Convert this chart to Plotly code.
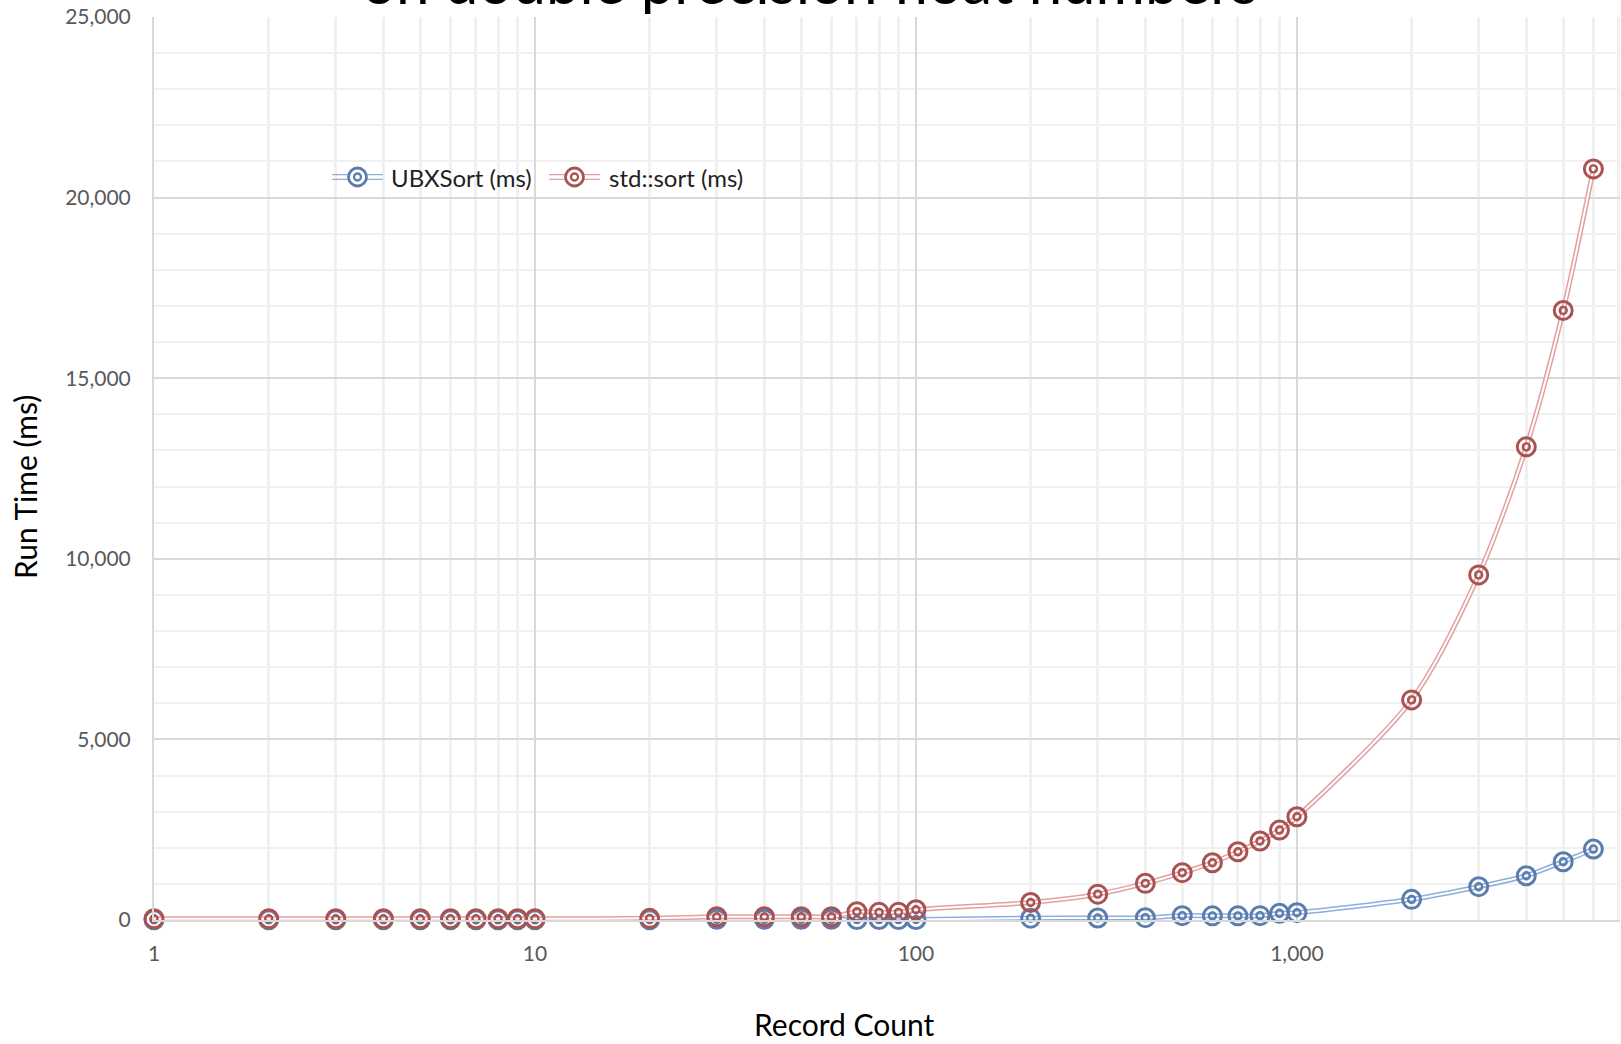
import plotly.graph_objects as go

# Benchmark results: sort time versus number of records
record_counts = [1, 2, 3, 4, 5, 6, 7, 8, 9, 10,
                 20, 30, 40, 50, 60, 70, 80, 90, 100,
                 200, 300, 400, 500, 600, 700, 800, 900, 1000,
                 2000, 3000, 4000, 5000, 6000]
ubxsort_ms = [5, 5, 5, 5, 5, 5, 5, 5, 5, 5,
              8, 18, 18, 18, 18, 12, 12, 12, 14,
              50, 55, 64, 120, 115, 115, 120, 185, 202,
              572, 922, 1226, 1613, 1964]
stdsort_ms = [35, 35, 35, 35, 35, 35, 35, 35, 35, 35,
              45, 91, 91, 91, 91, 230, 212, 212, 285,
              486, 715, 1015, 1310, 1586, 1890, 2186, 2490, 2858,
              6093, 9554, 13100, 16876, 20795]

series_names = ["UBXSort (ms)", "std::sort (ms)"]
x_tick_vals = [1, 10, 100, 1000]
x_tick_text = ["1", "10", "100", "1,000"]

title_text = "on double precision float numbers"
x_title = "Record Count"
y_title = "Run Time (ms)"

FONT = "Lato"
W, H = 1621, 1044
ML, MR, MT, MB = 154, 1, 17, 124
PW, PH = W - ML - MR, H - MT - MB

line_colors = ["#8FAEDB", "#E3A0A0"]
marker_colors = ["#5B7DAE", "#A95252"]

fig = go.Figure()

for vals, lc, mc in zip([ubxsort_ms, stdsort_ms], line_colors, marker_colors):
    # double line: a wide coloured stroke with a thin white core
    fig.add_trace(go.Scatter(x=record_counts, y=vals, mode="lines",
                             line=dict(color=lc, width=5, shape="spline", smoothing=0.8),
                             hoverinfo="skip", showlegend=False, cliponaxis=False))
    fig.add_trace(go.Scatter(x=record_counts, y=vals, mode="lines",
                             line=dict(color="white", width=2, shape="spline", smoothing=0.8),
                             hoverinfo="skip", showlegend=False, cliponaxis=False))
    # bullseye markers: outer ring plus inner ring
    fig.add_trace(go.Scatter(x=record_counts, y=vals, mode="markers",
                             marker=dict(symbol="circle-open", size=18, color=mc,
                                         line=dict(width=3, color=mc)),
                             showlegend=False, cliponaxis=False))
    fig.add_trace(go.Scatter(x=record_counts, y=vals, mode="markers",
                             marker=dict(symbol="circle-open", size=7, color=mc,
                                         line=dict(width=2.4, color=mc)),
                             hoverinfo="skip", showlegend=False, cliponaxis=False))


def px_x(px):
    return (px - ML) / PW


def px_y(py):
    return (H - MB - py) / PH


# Legend drawn as shapes and text
shapes = []
annotations = []
legend_y = px_y(177)
legend_items = [(332, 383, 389), (549, 600, 607)]
for (lx0, lx1, tx), name, lc, mc in zip(legend_items, series_names, line_colors, marker_colors):
    for off in (-2.4, 2.4):
        shapes.append(dict(type="line", xref="paper", yref="paper",
                           x0=px_x(lx0), x1=px_x(lx1), ysizemode="pixel",
                           yanchor=legend_y, y0=off, y1=off,
                           line=dict(color=lc, width=1.4)))
    cx = px_x((lx0 + lx1) / 2)
    for r, w in ((9.0, 2.8), (3.5, 2.3)):
        shapes.append(dict(type="circle", xref="paper", yref="paper",
                           xsizemode="pixel", ysizemode="pixel",
                           xanchor=cx, yanchor=legend_y,
                           x0=-r, x1=r, y0=-r, y1=r,
                           fillcolor="white" if r > 5 else "rgba(0,0,0,0)",
                           line=dict(color=mc, width=w)))
    annotations.append(dict(text=name, xref="paper", yref="paper",
                            x=px_x(tx), y=legend_y, xanchor="left", yanchor="middle",
                            showarrow=False, font=dict(family=FONT, size=24, color="#1F1F1F")))

# Chart title (only the lower line falls within the page)
annotations.append(dict(text=title_text, xref="paper", yref="paper",
                        x=px_x(810), y=1, xanchor="center", yanchor="bottom", yshift=-2,
                        showarrow=False, font=dict(family=FONT, size=60, color="#000000")))
# Axis titles
annotations.append(dict(text=y_title, xref="paper", yref="paper",
                        x=px_x(25), y=px_y(487), xanchor="center", yanchor="middle",
                        textangle=-90, showarrow=False,
                        font=dict(family=FONT, size=30, color="#000000")))
annotations.append(dict(text=x_title, xref="paper", yref="paper",
                        x=px_x(844), y=px_y(1024), xanchor="center", yanchor="middle",
                        showarrow=False, font=dict(family=FONT, size=30, color="#000000")))

minor_x = [k * 10 ** d for d in range(4) for k in range(2, 10)]

fig.update_layout(
    width=W, height=H, autosize=False,
    margin=dict(l=ML, r=MR, t=MT, b=MB, pad=0),
    paper_bgcolor="white", plot_bgcolor="white",
    font=dict(family=FONT, color="#595959"),
    shapes=shapes, annotations=annotations,
    showlegend=False,
    xaxis=dict(type="log", range=[0, 3.848],
               tickmode="array", tickvals=x_tick_vals, ticktext=x_tick_text,
               tickfont=dict(size=21, color="#595959"), ticklabelstandoff=14,
               showgrid=True, gridcolor="#D9D9D9", gridwidth=2,
               minor=dict(tickmode="array", tickvals=minor_x, showgrid=True,
                          gridcolor="#F0F0F0", gridwidth=2.5, ticks=""),
               showline=True, linecolor="#D9D9D9", linewidth=2,
               zeroline=False, ticks=""),
    yaxis=dict(range=[0, 25000], dtick=5000, tickformat=",",
               tickfont=dict(size=21, color="#595959"), ticklabelstandoff=17,
               showgrid=True, gridcolor="#D9D9D9", gridwidth=2,
               minor=dict(dtick=1000, showgrid=True, gridcolor="#F0F0F0",
                          gridwidth=2, ticks=""),
               showline=True, linecolor="#D9D9D9", linewidth=2,
               zeroline=False, ticks=""),
)

fig.write_html("out.html")
